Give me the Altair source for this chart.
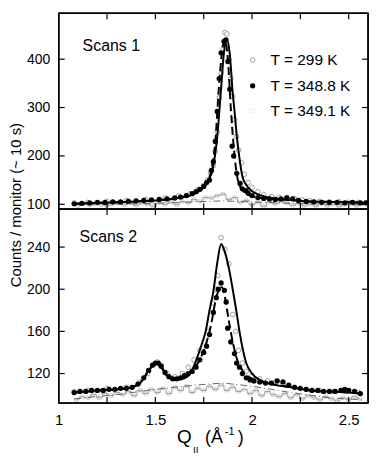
import altair as alt
import pandas as pd

FONT = "Liberation Sans"

# ---------------- Scans 1 ----------------
s1_q_299 = [1.08, 1.15, 1.25, 1.35, 1.45, 1.55, 1.62, 1.68, 1.72, 1.75, 1.77, 1.785, 1.80, 1.81, 1.82, 1.83,
            1.84, 1.85, 1.86, 1.87, 1.88, 1.89, 1.90, 1.91, 1.92, 1.93, 1.945, 1.96, 1.98, 2.00, 2.03, 2.06,
            2.10, 2.14, 2.18, 2.22, 2.26, 2.30, 2.35, 2.40, 2.45, 2.50, 2.55, 2.59]
s1_v_299 = [103, 104, 106, 108, 110, 113, 117, 122, 130, 139, 150, 165, 180, 210, 250, 320,
            371, 420, 455, 452, 400, 360, 323, 275, 240, 212, 186, 162, 145, 135, 126, 120,
            116, 114, 114, 112, 109, 107, 106, 105, 105, 104, 104, 103]

s1_q_348 = [1.08, 1.12, 1.16, 1.20, 1.24, 1.28, 1.32, 1.36, 1.40, 1.44, 1.48, 1.52, 1.56, 1.60, 1.63, 1.66,
            1.69, 1.71, 1.73, 1.75, 1.765, 1.78, 1.79, 1.80, 1.81, 1.82, 1.83, 1.84, 1.855, 1.865, 1.875,
            1.885, 1.897, 1.905, 1.921, 1.938, 1.95, 1.969, 1.98, 2.00, 2.03, 2.06, 2.09, 2.12, 2.15, 2.18,
            2.21, 2.24, 2.28, 2.32, 2.36, 2.40, 2.44, 2.48, 2.52, 2.56, 2.59]
s1_v_348 = [101, 102, 103, 104, 104, 105, 105, 106, 107, 108, 109, 110, 111, 113, 115, 118,
            122, 126, 131, 137, 145, 150, 170, 188, 230, 292, 360, 413, 437, 440, 395,
            338, 220, 200, 164, 143, 132, 128, 123, 118, 114, 112, 111, 110, 111, 113,
            111, 108, 106, 105, 104, 104, 104, 103, 104, 103, 103]

s1_q_349 = [1.10, 1.13, 1.16, 1.19, 1.22, 1.25, 1.28, 1.31, 1.34, 1.37, 1.40, 1.43, 1.46, 1.49, 1.52, 1.55,
            1.58, 1.61, 1.64, 1.67, 1.70, 1.73, 1.76, 1.79, 1.82, 1.85, 1.88, 1.91, 1.94, 1.97, 2.00, 2.03,
            2.06, 2.09, 2.12, 2.15, 2.18, 2.21, 2.24, 2.27, 2.30, 2.33, 2.36, 2.39, 2.42, 2.45, 2.48, 2.51,
            2.54, 2.57]
s1_v_349 = [97, 100, 98, 101, 99, 97, 101, 103, 99, 104, 98, 102, 100, 96, 103, 100,
            104, 99, 106, 103, 110, 106, 114, 113, 118, 121, 110, 114, 104, 108, 99, 104,
            96, 105, 101, 106, 103, 98, 102, 97, 100, 96, 101, 97, 100, 96, 99, 101,
            97, 100]

s1_q_solid = [1.08, 1.2, 1.3, 1.4, 1.5, 1.6, 1.68, 1.73, 1.77, 1.80, 1.82, 1.84, 1.855, 1.87, 1.885, 1.90,
              1.91, 1.92, 1.935, 1.95, 1.97, 2.00, 2.05, 2.1, 2.2, 2.3, 2.4, 2.5, 2.59]
s1_v_solid = [101, 103, 104, 106, 108, 112, 118, 128, 145, 180, 240, 340, 415, 440, 410, 330,
              290, 245, 195, 158, 140, 127, 118, 113, 109, 106, 105, 104, 103]

s1_q_dash = [1.08, 1.2, 1.3, 1.4, 1.5, 1.6, 1.68, 1.73, 1.77, 1.79, 1.81, 1.83, 1.85, 1.86, 1.875, 1.89,
             1.905, 1.92, 1.94, 1.96, 2.0, 2.05, 2.1, 2.2, 2.3, 2.4, 2.5, 2.59]
s1_v_dash = [101, 103, 104, 106, 108, 112, 119, 130, 148, 170, 230, 350, 430, 440, 400, 300,
             220, 165, 135, 125, 117, 113, 111, 109, 106, 105, 104, 103]

s1_q_dd = [1.08, 1.3, 1.5, 1.7, 1.85, 2.0, 2.2, 2.4, 2.59]
s1_v_dd = [99, 100, 102, 105, 107, 105, 102, 100, 99]

# ---------------- Scans 2 ----------------
s2_q_299 = [1.08, 1.15, 1.25, 1.35, 1.42, 1.46, 1.49, 1.51, 1.53, 1.56, 1.60, 1.64, 1.67, 1.70, 1.73, 1.755,
            1.775, 1.795, 1.81, 1.823, 1.84, 1.86, 1.88, 1.90, 1.915, 1.93, 1.95, 1.97, 2.00, 2.04, 2.08,
            2.12, 2.16, 2.22, 2.28, 2.35, 2.42, 2.48, 2.55]
s2_v_299 = [103, 104, 106, 107, 112, 120, 128, 131, 128, 120, 117, 120, 126, 133, 142, 150,
            160, 187, 200, 213, 249, 238, 224, 176, 160, 142, 130, 122, 118, 115, 113,
            112, 110, 107, 105, 104, 103, 104, 102]

s2_q_348 = [1.08, 1.11, 1.14, 1.17, 1.20, 1.23, 1.26, 1.29, 1.32, 1.35, 1.38, 1.41, 1.44, 1.465, 1.485, 1.50,
            1.515, 1.53, 1.55, 1.57, 1.59, 1.61, 1.63, 1.65, 1.67, 1.69, 1.71, 1.73, 1.75, 1.765, 1.78,
            1.80, 1.815, 1.825, 1.84, 1.857, 1.866, 1.874, 1.89, 1.909, 1.92, 1.935, 1.95, 1.97, 1.99, 2.01,
            2.04, 2.07, 2.10, 2.13, 2.16, 2.19, 2.22, 2.25, 2.28, 2.31, 2.34, 2.37, 2.40, 2.43, 2.46, 2.48,
            2.50, 2.53, 2.56]
s2_v_348 = [102, 103, 103, 104, 104, 104, 105, 105, 106, 106, 107, 110, 116, 123, 128, 130,
            130, 127, 121, 117, 115, 115, 116, 118, 120, 122, 126, 133, 140, 146, 157,
            178, 192, 200, 206, 199, 188, 163, 150, 139, 130, 126, 120, 116, 114, 113,
            112, 111, 111, 113, 112, 109, 107, 106, 105, 104, 104, 103, 103, 103, 104, 105,
            104, 103, 101]

s2_q_349 = [1.09, 1.12, 1.15, 1.18, 1.21, 1.24, 1.27, 1.30, 1.33, 1.36, 1.39, 1.42, 1.45, 1.48, 1.51, 1.54,
            1.57, 1.60, 1.63, 1.66, 1.69, 1.72, 1.75, 1.78, 1.81, 1.84, 1.87, 1.90, 1.93, 1.96, 1.99, 2.02,
            2.05, 2.08, 2.11, 2.14, 2.17, 2.20, 2.23, 2.26, 2.29, 2.32, 2.35, 2.38, 2.41, 2.44, 2.47, 2.50,
            2.53, 2.56]
s2_v_349 = [95, 98, 97, 100, 97, 101, 99, 102, 100, 103, 99, 104, 101, 105, 102, 106,
            101, 107, 104, 108, 102, 106, 104, 108, 105, 109, 104, 107, 103, 105, 101, 104,
            99, 103, 100, 98, 101, 97, 100, 96, 99, 97, 95, 98, 96, 94, 97, 95,
            98, 96]

s2_q_solid = [1.08, 1.2, 1.3, 1.38, 1.43, 1.47, 1.50, 1.53, 1.56, 1.60, 1.64, 1.68, 1.71, 1.74, 1.76, 1.78,
              1.80, 1.82, 1.84, 1.86, 1.88, 1.90, 1.92, 1.935, 1.95, 1.97, 2.0, 2.05, 2.1, 2.2, 2.3, 2.4,
              2.5, 2.57]
s2_v_solid = [102, 104, 105, 107, 113, 124, 130, 127, 118, 114, 115, 120, 132, 148, 160, 180,
              198, 225, 243, 235, 220, 200, 178, 160, 145, 130, 120, 113, 110, 107, 104, 103,
              102, 101]

s2_q_dash = [1.08, 1.2, 1.3, 1.38, 1.43, 1.47, 1.50, 1.53, 1.56, 1.60, 1.64, 1.68, 1.72, 1.76, 1.79, 1.81,
             1.83, 1.845, 1.86, 1.88, 1.90, 1.92, 1.95, 2.0, 2.05, 2.1, 2.2, 2.3, 2.4, 2.5, 2.57]
s2_v_dash = [102, 104, 105, 107, 113, 124, 129, 126, 118, 114, 116, 121, 130, 147, 168, 188,
             200, 202, 192, 170, 150, 135, 123, 115, 112, 110, 107, 104, 103, 102, 101]

s2_q_dd = [1.08, 1.3, 1.5, 1.7, 1.85, 2.0, 2.2, 2.4, 2.58]
s2_v_dd = [96, 100, 105, 109, 111, 108, 102, 97, 95]

# ---------------- axes / labels ----------------
x_domain = [1.0, 2.6]
x_labels = [1.0, 1.5, 2.0, 2.5]
x_ticks = [1.25, 1.5, 1.75, 2.0, 2.25, 2.5]
y1_domain = [90, 495]
y1_ticks = [100, 200, 300, 400]
y2_domain = [92, 276]
y2_ticks = [120, 160, 200, 240]
legend_labels = ["T = 299 K", "T = 348.8 K", "T = 349.1 K"]
y_title = "Counts / monitor (~ 10 s)"

W = 311
H1 = 197
H2 = 195


def df(q, v):
    return pd.DataFrame({"q": q, "v": v})


def text(s, x, y, size, **kw):
    return alt.Chart(pd.DataFrame({"t": [s]})).mark_text(
        font=FONT, fontSize=size, color="black", align=kw.pop("align", "left"),
        baseline=kw.pop("baseline", "middle"), **kw
    ).encode(text="t:N", x=alt.value(x), y=alt.value(y))


def frame(H):
    one = pd.DataFrame({"a": [0]})
    r = dict(color="black", strokeWidth=1.5)
    return [
        alt.Chart(one).mark_rule(**r).encode(x=alt.value(0), x2=alt.value(W), y=alt.value(0)),
        alt.Chart(one).mark_rule(**r).encode(x=alt.value(0), x2=alt.value(W), y=alt.value(H)),
        alt.Chart(one).mark_rule(**r).encode(y=alt.value(0), y2=alt.value(H), x=alt.value(0)),
        alt.Chart(one).mark_rule(**r).encode(y=alt.value(0), y2=alt.value(H), x=alt.value(W)),
    ]


def panel(H, ydom, yticks, series, label, show_x, extra):
    xaxis = alt.Axis(values=x_labels, format="~g", ticks=False, domain=False, grid=False,
                     labelFont=FONT, labelFontSize=15, labelColor="black", labelPadding=10,
                     title=None, labelFlush=False) if show_x else None
    X = alt.X("q:Q", scale=alt.Scale(domain=x_domain, nice=False, zero=False), axis=xaxis)
    Y = alt.Y("v:Q", scale=alt.Scale(domain=ydom, nice=False, zero=False),
              axis=alt.Axis(values=yticks, ticks=False, domain=False, grid=False,
                            labelFont=FONT, labelFontSize=14, labelColor="black",
                            labelPadding=9, title=None))
    (q299, v299), (q348, v348), (q349, v349), (qs, vs), (qd, vd), (qdd, vdd) = series
    layers = [
        alt.Chart(df(q349, v349)).mark_line(interpolate="step", color="#9a9a9a", strokeWidth=0.9, clip=True).encode(x=X, y=Y),
        alt.Chart(df(q349, v349)).mark_point(shape="square", size=10, color="#a0a0a0", strokeWidth=0.7, clip=True).encode(x=X, y=Y),
        alt.Chart(df(qdd, vdd)).mark_line(color="#666666", strokeWidth=1, strokeDash=[7, 3, 1, 3], clip=True).encode(x=X, y=Y),
        alt.Chart(df(q299, v299)).mark_point(shape="circle", size=22, filled=True, fill="white", stroke="#8a8a8a", strokeWidth=0.8, opacity=1, clip=True).encode(x=X, y=Y),
        alt.Chart(df(q348, v348)).mark_circle(size=28, color="black", opacity=1, clip=True).encode(x=X, y=Y),
        alt.Chart(df(qs, vs)).mark_line(color="black", strokeWidth=2, interpolate="monotone", clip=True).encode(x=X, y=Y),
        alt.Chart(df(qd, vd)).mark_line(color="black", strokeWidth=2, strokeDash=[8, 4], interpolate="monotone", clip=True).encode(x=X, y=Y),
        # inward ticks
        alt.Chart(pd.DataFrame({"q": x_ticks})).mark_rule(color="black", strokeWidth=1.2).encode(x=X, y=alt.value(H), y2=alt.value(H - 6)),
        alt.Chart(pd.DataFrame({"q": x_ticks})).mark_rule(color="black", strokeWidth=1.2).encode(x=X, y=alt.value(0), y2=alt.value(6)),
        alt.Chart(pd.DataFrame({"v": yticks})).mark_rule(color="black", strokeWidth=1.2).encode(y=Y, x=alt.value(0), x2=alt.value(6)),
        alt.Chart(pd.DataFrame({"v": yticks})).mark_rule(color="black", strokeWidth=1.2).encode(y=Y, x=alt.value(W - 6), x2=alt.value(W)),
        text(label[0], label[1], label[2], 16),
    ] + frame(H) + extra
    return alt.layer(*layers).properties(width=W, height=H)


# legend (top panel)
legend = [
    alt.Chart(pd.DataFrame({"a": [0]})).mark_point(shape="circle", size=22, filled=True, fill="white", stroke="#8a8a8a", strokeWidth=0.8, opacity=1).encode(x=alt.value(195), y=alt.value(47)),
    alt.Chart(pd.DataFrame({"a": [0]})).mark_circle(size=28, color="black", opacity=1).encode(x=alt.value(195), y=alt.value(73)),
    alt.Chart(pd.DataFrame({"a": [0]})).mark_point(shape="square", size=18, color="#dddddd", strokeWidth=0.7).encode(x=alt.value(195), y=alt.value(98)),
    text(legend_labels[0], 213, 47, 15.5),
    text(legend_labels[1], 213, 73, 15.5),
    text(legend_labels[2], 213, 98, 15.5),
    text(y_title, -43, 193, 15, align="center", angle=270),
]

xtitle = [
    text("Q", 119, 235, 19, baseline="alphabetic"),
    text("II", 135, 245, 10, baseline="alphabetic"),
    text("(Å", 147, 235, 18, baseline="alphabetic"),
    text("-1", 167, 227, 11, baseline="alphabetic"),
    text(")", 180, 235, 18, baseline="alphabetic"),
]

top = panel(H1, y1_domain, y1_ticks,
            [(s1_q_299, s1_v_299), (s1_q_348, s1_v_348), (s1_q_349, s1_v_349),
             (s1_q_solid, s1_v_solid), (s1_q_dash, s1_v_dash), (s1_q_dd, s1_v_dd)],
            ("Scans 1", 24, 33), False, legend)
bottom = panel(H2, y2_domain, y2_ticks,
               [(s2_q_299, s2_v_299), (s2_q_348, s2_v_348), (s2_q_349, s2_v_349),
                (s2_q_solid, s2_v_solid), (s2_q_dash, s2_v_dash), (s2_q_dd, s2_v_dd)],
               ("Scans 2", 21, 28), True, xtitle)

chart = alt.vconcat(top, bottom, spacing=0, bounds="flush").properties(
    padding={"left": 0, "top": 2, "right": 4, "bottom": 0}, background="white"
).configure_view(stroke="black", strokeWidth=1.4)

chart.save("out.html", embed_options={"renderer": "svg", "actions": False})
